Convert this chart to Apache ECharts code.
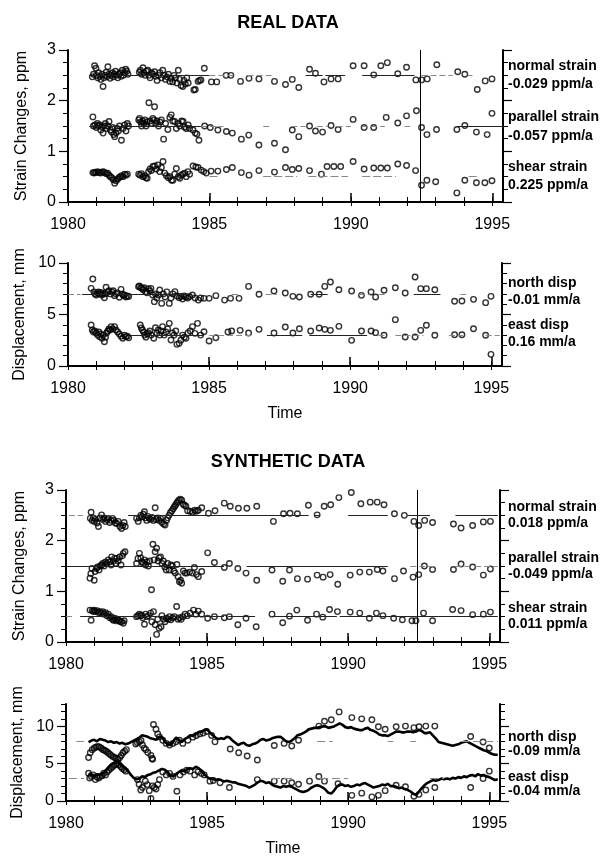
<!DOCTYPE html>
<html>
<head>
<meta charset="utf-8">
<script src="https://cdn.jsdelivr.net/npm/echarts@6/dist/echarts.min.js"></script>
<style>
  html, body { margin: 0; padding: 0; background: #fff; }
  #chart { width: 605px; height: 858px; }
</style>
</head>
<body>
<div id="chart"></div>
<script>
// ---- data: [year, value] ----
const quakeYear = 1992.45;
const yearTicks = [1980,1981,1982,1983,1984,1985,1986,1987,1988,1989,1990,1991,1992,1993,1994,1995];
const yearLabels = [1980, 1985, 1990, 1995];

// REAL DATA, strain (ppm)
const realNormal = [[1980.86,2.47],[1980.9,2.52],[1980.94,2.69],[1980.99,2.64],[1981.0,2.5],[1981.05,2.45],[1981.08,2.55],[1981.12,2.48],[1981.16,2.42],[1981.2,2.52],[1981.24,2.28],[1981.27,2.45],[1981.31,2.5],[1981.35,2.56],[1981.38,2.47],[1981.41,2.67],[1981.45,2.52],[1981.49,2.44],[1981.53,2.5],[1981.57,2.55],[1981.6,2.47],[1981.64,2.52],[1981.68,2.58],[1981.72,2.5],[1981.76,2.45],[1981.8,2.52],[1981.84,2.55],[1981.88,2.48],[1981.92,2.6],[1981.96,2.5],[1982.0,2.55],[1982.04,2.62],[1982.08,2.58],[1982.12,2.52],
  [1982.52,2.56],[1982.56,2.6],[1982.6,2.52],[1982.65,2.65],[1982.69,2.55],[1982.73,2.5],[1982.78,2.58],[1982.82,2.6],[1982.86,2.5],[1982.9,2.45],[1982.95,2.55],[1983.0,2.52],[1983.06,2.57],[1983.1,2.48],[1983.15,2.4],[1983.2,2.5],[1983.25,2.55],[1983.3,2.45],[1983.35,2.6],[1983.4,2.5],[1983.45,2.42],[1983.5,2.47],[1983.55,2.52],[1983.6,2.38],[1983.65,2.44],[1983.7,2.37],[1983.75,2.5],[1983.8,2.45],[1983.85,2.35],[1983.9,2.6],[1983.95,2.42],[1984.0,2.3],[1984.06,2.28],[1984.1,2.4],[1984.15,2.33],[1984.2,2.45],[1984.25,2.35],
  [1984.45,2.21],[1984.5,2.22],[1984.6,2.38],[1984.65,2.4],[1984.7,2.41],[1984.82,2.64],[1985.07,2.37],[1985.26,2.37],[1985.59,2.5],[1985.76,2.5],[1986.1,2.38],[1986.4,2.44],[1986.75,2.43],[1987.3,2.38],[1987.69,2.32],[1987.93,2.42],[1988.16,2.26],[1988.54,2.62],[1988.75,2.54],[1989.05,2.37],[1989.3,2.43],[1989.55,2.43],[1990.08,2.69],[1990.47,2.69],[1990.81,2.51],[1991.06,2.69],[1991.29,2.75],[1991.66,2.53],[1991.97,2.66],[1992.3,2.41],[1992.5,2.41],[1992.7,2.43],[1993.04,2.71],[1993.78,2.57],[1994.03,2.52],[1994.47,2.22],[1994.75,2.39],[1994.99,2.43]];
const realParallel = [[1980.88,1.68],[1980.9,1.5],[1980.95,1.52],[1981.0,1.47],[1981.04,1.55],[1981.08,1.5],[1981.12,1.52],[1981.16,1.42],[1981.2,1.48],[1981.24,1.36],[1981.28,1.5],[1981.32,1.55],[1981.36,1.45],[1981.4,1.5],[1981.45,1.59],[1981.5,1.42],[1981.54,1.38],[1981.58,1.47],[1981.62,1.33],[1981.65,1.29],[1981.7,1.36],[1981.74,1.45],[1981.78,1.4],[1981.82,1.5],[1981.89,1.22],[1981.95,1.45],[1982.0,1.52],[1982.05,1.4],[1982.1,1.55],[1982.14,1.5],
  [1982.5,1.62],[1982.53,1.65],[1982.57,1.58],[1982.6,1.5],[1982.64,1.6],[1982.68,1.55],[1982.72,1.62],[1982.76,1.5],[1982.8,1.58],[1982.86,1.96],[1983.06,1.88],[1982.9,1.6],[1982.95,1.55],[1983.0,1.65],[1983.04,1.62],[1983.1,1.55],[1983.14,1.6],[1983.2,1.5],[1983.25,1.58],[1983.3,1.62],[1983.38,1.24],[1983.45,1.55],[1983.53,1.43],[1983.6,1.67],[1983.65,1.72],[1983.7,1.6],[1983.77,1.59],[1983.83,1.45],[1983.9,1.55],[1983.95,1.5],[1984.02,1.6],[1984.07,1.59],[1984.12,1.48],[1984.18,1.45],[1984.25,1.52],[1984.3,1.45],
  [1984.42,1.42],[1984.5,1.36],[1984.56,1.34],[1984.63,1.22],[1984.83,1.5],[1985.03,1.47],[1985.3,1.42],[1985.6,1.39],[1985.81,1.36],[1986.13,1.24],[1986.39,1.32],[1986.75,1.125],[1987.3,1.16],[1987.69,1.03],[1987.93,1.42],[1988.16,1.29],[1988.54,1.5],[1988.75,1.4],[1989.0,1.38],[1989.3,1.51],[1989.55,1.43],[1990.08,1.63],[1990.47,1.47],[1990.81,1.47],[1991.25,1.67],[1991.66,1.56],[1991.97,1.7],[1992.32,1.8],[1992.5,1.47],[1992.69,1.33],[1993.03,1.43],[1993.75,1.43],[1994.03,1.51],[1994.44,1.38],[1994.82,1.33],[1994.99,1.75]];
const realShear = [[1980.88,0.58],[1980.92,0.57],[1980.96,0.59],[1981.0,0.58],[1981.05,0.6],[1981.1,0.58],[1981.15,0.57],[1981.2,0.59],[1981.25,0.6],[1981.3,0.58],[1981.35,0.56],[1981.4,0.57],[1981.45,0.53],[1981.5,0.5],[1981.55,0.48],[1981.6,0.44],[1981.65,0.37],[1981.7,0.42],[1981.75,0.45],[1981.8,0.48],[1981.85,0.5],[1981.9,0.52],[1981.95,0.5],[1982.0,0.55],[1982.05,0.53],[1982.1,0.55],
  [1982.5,0.55],[1982.55,0.53],[1982.6,0.56],[1982.65,0.5],[1982.7,0.52],[1982.75,0.48],[1982.8,0.47],[1982.85,0.6],[1982.9,0.65],[1982.95,0.62],[1983.0,0.7],[1983.06,0.71],[1983.12,0.65],[1983.18,0.73],[1983.24,0.6],[1983.3,0.68],[1983.36,0.8],[1983.42,0.57],[1983.48,0.52],[1983.55,0.48],[1983.6,0.5],[1983.66,0.43],[1983.71,0.43],[1983.77,0.55],[1983.83,0.66],[1983.9,0.5],[1983.95,0.47],[1984.0,0.53],[1984.06,0.55],[1984.12,0.57],[1984.18,0.5],[1984.24,0.6],[1984.3,0.55],
  [1984.42,0.71],[1984.52,0.69],[1984.6,0.68],[1984.71,0.63],[1984.8,0.6],[1984.89,0.57],[1985.06,0.61],[1985.3,0.61],[1985.6,0.64],[1985.81,0.68],[1986.13,0.58],[1986.4,0.53],[1986.75,0.62],[1987.3,0.59],[1987.69,0.68],[1987.93,0.64],[1988.16,0.66],[1988.54,0.62],[1988.96,0.55],[1989.16,0.7],[1989.4,0.7],[1989.64,0.7],[1990.08,0.8],[1990.47,0.65],[1990.81,0.67],[1991.06,0.67],[1991.29,0.67],[1991.66,0.75],[1991.97,0.72],[1992.29,0.62],[1992.5,0.33],[1992.69,0.43],[1993.0,0.4],[1993.75,0.18],[1994.03,0.43],[1994.44,0.38],[1994.74,0.38],[1994.99,0.42]];

// REAL DATA, displacement (mm)
const realNorth = [[1980.82,7.54],[1980.88,8.45],[1980.92,7.2],[1980.96,7.0],[1981.0,6.9],[1981.04,7.1],[1981.08,7.2],[1981.12,7.0],[1981.16,7.15],[1981.2,6.9],[1981.24,7.05],[1981.29,6.63],[1981.32,7.0],[1981.35,7.64],[1981.4,7.2],[1981.45,7.3],[1981.5,7.0],[1981.55,7.2],[1981.6,7.3],[1981.65,6.83],[1981.7,7.0],[1981.75,7.1],[1981.82,6.67],[1981.88,7.44],[1981.92,7.0],[1981.96,6.85],[1982.0,6.9],[1982.05,6.7],[1982.1,6.8],[1982.15,6.75],
  [1982.5,7.7],[1982.53,7.77],[1982.58,7.6],[1982.62,7.55],[1982.66,7.4],[1982.7,7.6],[1982.75,7.2],[1982.8,7.1],[1982.85,7.5],[1982.9,7.3],[1982.94,7.54],[1983.0,6.9],[1983.06,6.25],[1983.1,7.0],[1983.15,6.6],[1983.2,6.9],[1983.25,7.38],[1983.32,6.08],[1983.38,7.0],[1983.44,6.7],[1983.5,7.2],[1983.59,6.08],[1983.65,6.6],[1983.72,7.0],[1983.79,7.22],[1983.86,6.8],[1983.94,6.63],[1984.0,6.75],[1984.06,6.5],[1984.12,6.8],[1984.18,6.7],[1984.24,6.6],[1984.3,6.75],[1984.41,6.9],[1984.5,6.6],[1984.62,6.4],[1984.7,6.6],[1984.82,6.57],
  [1985.0,6.57],[1985.24,6.83],[1985.55,6.4],[1985.76,6.57],[1986.06,6.57],[1986.4,7.73],[1986.77,6.96],[1987.3,7.28],[1987.7,7.09],[1987.97,6.76],[1988.2,6.7],[1988.6,6.96],[1988.9,6.96],[1989.1,7.73],[1989.3,8.16],[1989.6,7.41],[1990.05,7.28],[1990.4,6.86],[1990.74,7.18],[1990.9,6.7],[1991.2,7.35],[1991.6,7.6],[1991.95,7.09],[1992.3,8.64],[1992.5,7.51],[1992.7,7.51],[1993.0,7.41],[1993.7,6.28],[1993.96,6.31],[1994.37,6.47],[1994.8,6.15],[1994.99,6.76]];
const realEast = [[1980.82,3.98],[1980.86,3.5],[1980.9,3.3],[1980.95,3.4],[1981.0,3.2],[1981.05,3.0],[1981.09,3.3],[1981.12,2.85],[1981.16,3.1],[1981.2,2.7],[1981.25,3.0],[1981.29,2.36],[1981.33,2.8],[1981.37,3.2],[1981.41,3.4],[1981.45,3.6],[1981.49,3.5],[1981.53,3.82],[1981.58,3.6],[1981.65,3.82],[1981.7,3.5],[1981.76,3.3],[1981.82,3.1],[1981.88,2.9],[1981.94,2.69],[1982.0,3.0],[1982.05,2.85],[1982.1,2.9],[1982.15,2.75],
  [1982.56,3.98],[1982.6,3.7],[1982.64,3.5],[1982.68,3.3],[1982.72,3.0],[1982.76,2.8],[1982.8,3.1],[1982.85,3.2],[1982.9,3.4],[1982.95,3.0],[1983.04,2.69],[1983.1,3.72],[1983.15,3.2],[1983.2,3.5],[1983.25,3.0],[1983.3,3.4],[1983.35,3.82],[1983.41,3.0],[1983.47,3.3],[1983.53,3.6],[1983.59,4.14],[1983.65,2.52],[1983.7,3.2],[1983.76,3.0],[1983.82,3.4],[1983.86,2.1],[1983.94,2.2],[1984.0,2.5],[1984.06,3.0],[1984.12,2.8],[1984.18,2.69],[1984.25,3.2],[1984.33,3.4],[1984.41,3.82],[1984.5,3.17],[1984.59,4.14],[1984.7,3.0],[1984.82,3.33],
  [1985.0,2.43],[1985.24,2.75],[1985.67,3.3],[1985.8,3.4],[1986.1,3.46],[1986.4,3.2],[1986.77,3.56],[1987.3,3.2],[1987.7,3.79],[1987.97,3.2],[1988.2,3.62],[1988.6,3.4],[1988.9,3.69],[1989.1,3.56],[1989.3,3.46],[1989.6,3.85],[1990.05,2.49],[1990.4,3.4],[1990.74,3.4],[1990.9,3.24],[1991.2,2.98],[1991.6,4.5],[1991.95,2.82],[1992.3,2.82],[1992.5,3.46],[1992.7,3.95],[1993.0,2.98],[1993.7,3.04],[1993.96,3.04],[1994.37,3.62],[1994.8,2.98],[1994.99,1.13]];

// SYNTHETIC DATA, strain (ppm)
const synNormal = [[1980.86,2.44],[1980.89,2.56],[1980.93,2.4],[1980.97,2.45],[1981.0,2.38],[1981.05,2.42],[1981.1,2.35],[1981.15,2.28],[1981.2,2.45],[1981.26,2.51],[1981.3,2.42],[1981.35,2.45],[1981.4,2.38],[1981.45,2.42],[1981.5,2.44],[1981.55,2.36],[1981.6,2.4],[1981.65,2.44],[1981.7,2.4],[1981.75,2.35],[1981.8,2.34],[1981.85,2.38],[1981.91,2.28],[1981.97,2.24],[1982.02,2.3],[1982.06,2.36],[1982.1,2.28],
  [1982.5,2.44],[1982.56,2.38],[1982.6,2.45],[1982.65,2.5],[1982.7,2.47],[1982.74,2.52],[1982.78,2.57],[1982.82,2.45],[1982.86,2.4],[1982.9,2.48],[1982.95,2.44],[1983.0,2.42],[1983.05,2.46],[1983.1,2.4],[1983.16,2.65],[1983.2,2.42],[1983.25,2.45],[1983.3,2.4],[1983.35,2.44],[1983.4,2.36],[1983.46,2.33],[1983.51,2.31],[1983.56,2.4],[1983.6,2.45],[1983.65,2.5],[1983.7,2.55],[1983.75,2.59],[1983.8,2.63],[1983.84,2.67],[1983.88,2.7],[1983.92,2.74],[1983.96,2.77],[1984.0,2.8],[1984.05,2.82],[1984.1,2.8],[1984.15,2.72],[1984.2,2.7],[1984.25,2.68],[1984.31,2.59],[1984.4,2.58],[1984.48,2.56],[1984.56,2.6],[1984.62,2.58],[1984.69,2.6],[1984.81,2.65],
  [1985.05,2.54],[1985.28,2.59],[1985.61,2.74],[1985.82,2.68],[1986.11,2.64],[1986.41,2.64],[1986.76,2.68],[1987.35,2.38],[1987.71,2.53],[1987.94,2.54],[1988.2,2.53],[1988.59,2.7],[1988.9,2.51],[1989.15,2.68],[1989.38,2.71],[1989.67,2.85],[1990.11,2.95],[1990.45,2.73],[1990.78,2.76],[1991.03,2.76],[1991.27,2.71],[1991.64,2.53],[1991.99,2.5],[1992.33,2.38],[1992.5,2.3],[1992.71,2.4],[1992.99,2.36],[1993.73,2.33],[1994.0,2.25],[1994.41,2.3],[1994.79,2.37],[1995.04,2.38]];
const synParallel = [[1980.85,1.26],[1980.88,1.35],[1980.92,1.45],[1981.0,1.22],[1981.03,1.39],[1981.08,1.45],[1981.12,1.48],[1981.17,1.42],[1981.22,1.5],[1981.26,1.52],[1981.3,1.55],[1981.35,1.5],[1981.4,1.58],[1981.45,1.55],[1981.5,1.62],[1981.55,1.58],[1981.6,1.52],[1981.62,1.68],[1981.67,1.6],[1981.72,1.65],[1981.76,1.55],[1981.8,1.65],[1981.85,1.6],[1981.9,1.68],[1981.95,1.52],[1982.0,1.7],[1982.03,1.75],[1982.09,1.78],
  [1982.5,1.55],[1982.55,1.65],[1982.6,1.75],[1982.65,1.66],[1982.7,1.58],[1982.74,1.55],[1982.78,1.62],[1982.82,1.52],[1982.87,1.58],[1982.92,1.5],[1982.97,1.6],[1983.03,1.03],[1983.08,1.93],[1983.12,1.62],[1983.16,1.78],[1983.21,1.85],[1983.26,1.6],[1983.3,1.66],[1983.35,1.68],[1983.4,1.55],[1983.45,1.6],[1983.5,1.48],[1983.55,1.42],[1983.6,1.55],[1983.66,1.42],[1983.72,1.52],[1983.77,1.5],[1983.82,1.4],[1983.87,1.36],[1983.93,1.53],[1983.97,1.29],[1984.02,1.19],[1984.06,1.22],[1984.1,1.16],[1984.16,1.4],[1984.22,1.36],[1984.28,1.36],[1984.38,1.38],[1984.48,1.36],[1984.55,1.47],[1984.62,1.33],[1984.69,1.29],[1984.81,1.39],
  [1985.02,1.76],[1985.26,1.57],[1985.61,1.47],[1985.79,1.55],[1986.09,1.45],[1986.38,1.36],[1986.76,1.22],[1987.3,1.42],[1987.68,1.2],[1987.92,1.42],[1988.2,1.25],[1988.56,1.24],[1988.9,1.32],[1989.11,1.28],[1989.36,1.33],[1989.63,1.14],[1990.07,1.32],[1990.41,1.38],[1990.75,1.38],[1991.03,1.43],[1991.23,1.4],[1991.64,1.25],[1991.96,1.4],[1992.3,1.28],[1992.5,1.33],[1992.7,1.5],[1992.99,1.43],[1993.73,1.43],[1994.0,1.54],[1994.41,1.48],[1994.79,1.32],[1995.04,1.44]];
const synShear = [[1980.85,0.63],[1980.89,0.43],[1980.93,0.62],[1980.97,0.6],[1981.0,0.63],[1981.05,0.6],[1981.1,0.62],[1981.15,0.58],[1981.2,0.6],[1981.25,0.57],[1981.3,0.6],[1981.35,0.55],[1981.4,0.58],[1981.45,0.52],[1981.5,0.55],[1981.55,0.48],[1981.6,0.5],[1981.65,0.45],[1981.68,0.43],[1981.72,0.47],[1981.77,0.42],[1981.82,0.45],[1981.87,0.43],[1981.92,0.4],[1981.97,0.4],[1982.03,0.37],[1982.06,0.42],
  [1982.5,0.5],[1982.55,0.52],[1982.6,0.55],[1982.65,0.52],[1982.68,0.53],[1982.72,0.48],[1982.78,0.35],[1982.82,0.55],[1982.87,0.5],[1982.92,0.52],[1983.0,0.57],[1983.04,0.4],[1983.1,0.6],[1983.16,0.34],[1983.21,0.15],[1983.25,0.45],[1983.3,0.27],[1983.37,0.3],[1983.4,0.52],[1983.46,0.45],[1983.51,0.4],[1983.56,0.47],[1983.62,0.45],[1983.67,0.5],[1983.72,0.44],[1983.78,0.48],[1983.84,0.5],[1983.92,0.7],[1983.97,0.45],[1984.02,0.48],[1984.08,0.45],[1984.14,0.5],[1984.22,0.55],[1984.3,0.52],[1984.4,0.57],[1984.52,0.63],[1984.6,0.55],[1984.69,0.61],[1984.81,0.55],
  [1985.02,0.47],[1985.26,0.5],[1985.61,0.48],[1985.79,0.5],[1986.09,0.34],[1986.38,0.47],[1986.74,0.3],[1987.3,0.55],[1987.68,0.38],[1987.92,0.51],[1988.18,0.63],[1988.56,0.43],[1988.88,0.55],[1989.1,0.49],[1989.34,0.64],[1989.62,0.6],[1990.07,0.59],[1990.41,0.57],[1990.75,0.47],[1991.0,0.57],[1991.23,0.52],[1991.61,0.47],[1991.92,0.44],[1992.26,0.42],[1992.4,0.42],[1992.67,0.57],[1992.99,0.42],[1993.7,0.64],[1994.0,0.62],[1994.41,0.54],[1994.79,0.55],[1995.04,0.59]];

// SYNTHETIC DATA, displacement (mm): observed circles
const synNorth = [[1980.8,5.82],[1980.86,6.46],[1980.93,6.88],[1981.0,7.09],[1981.05,7.2],[1981.12,7.3],[1981.18,7.25],[1981.24,7.1],[1981.3,6.9],[1981.36,6.8],[1981.42,6.67],[1981.48,6.5],[1981.54,6.3],[1981.6,6.12],[1981.66,5.95],[1981.72,5.82],[1981.78,5.7],[1981.84,5.61],[1981.9,5.8],[1981.96,6.1],[1982.02,6.46],[1982.08,6.67],[1982.14,6.88],
  [1982.47,7.64],[1982.53,7.8],[1982.6,7.93],[1982.66,8.1],[1982.71,7.5],[1982.77,7.09],[1982.83,6.88],[1982.9,6.5],[1983.01,6.12],[1983.05,5.7],[1983.07,5.6],[1983.1,10.25],[1983.19,9.62],[1983.25,8.99],[1983.31,8.6],[1983.43,8.14],[1983.55,7.72],[1983.67,7.5],[1983.79,7.72],[1983.9,7.93],[1984.02,8.14],[1984.14,7.72],[1984.32,8.14],[1984.5,8.56],[1984.62,8.78],[1984.74,8.99],[1984.86,9.1],[1984.98,9.32],[1985.16,8.78],[1985.28,7.93],
  [1985.82,6.96],[1986.12,6.46],[1986.42,6.03],[1986.78,5.49],[1987.38,7.43],[1987.73,7.72],[1988.0,7.38],[1988.24,8.14],[1988.96,10.04],[1989.16,10.68],[1989.4,10.89],[1989.68,11.94],[1990.13,11.18],[1990.48,11.01],[1990.84,10.89],[1991.07,9.96],[1991.31,9.62],[1991.7,9.96],[1992.03,10.04],[1992.33,9.83],[1992.51,9.96],[1992.75,10.04],[1993.07,10.04],[1994.34,8.65],[1994.78,7.9],[1995.0,7.1]];
const synEast = [[1980.8,3.71],[1980.84,3.08],[1980.9,3.3],[1980.96,3.5],[1981.04,2.87],[1981.1,3.2],[1981.16,3.08],[1981.22,3.3],[1981.28,3.4],[1981.34,3.71],[1981.4,3.5],[1981.46,3.9],[1981.52,4.14],[1981.58,4.35],[1981.64,4.56],[1981.7,4.77],[1981.76,4.9],[1981.82,5.1],[1981.88,4.85],[1981.94,4.6],[1982.0,4.35],[1982.06,4.2],[1982.12,4.0],
  [1982.53,2.87],[1982.59,2.24],[1982.65,1.48],[1982.71,1.8],[1982.81,2.66],[1982.88,2.2],[1982.95,1.39],[1983.01,0.34],[1983.07,2.03],[1983.13,1.8],[1983.19,1.6],[1983.25,2.2],[1983.31,2.87],[1983.43,3.9],[1983.55,3.5],[1983.67,3.7],[1983.79,3.3],[1983.93,1.31],[1984.04,3.5],[1984.16,3.9],[1984.28,4.14],[1984.4,4.0],[1984.56,3.5],[1984.68,3.92],[1984.8,3.7],[1984.9,3.5],[1985.1,2.66],[1985.22,2.74],[1985.46,2.45],[1985.79,1.81],
  [1986.78,2.87],[1987.38,2.66],[1987.73,2.66],[1988.0,2.45],[1988.24,2.24],[1988.63,2.66],[1988.96,3.29],[1989.16,2.66],[1989.64,2.32],[1990.13,0.76],[1990.48,1.05],[1990.84,0.55],[1991.07,0.76],[1991.31,1.39],[1991.7,2.11],[1992.03,1.9],[1992.33,0.63],[1992.51,0.89],[1992.75,1.48],[1993.07,1.81],[1994.34,1.8],[1994.78,3.0],[1995.0,4.0]];

// SYNTHETIC DATA, displacement (mm): continuous model traces, one value every 0.1 yr from 1980.8
const traceStart = 1980.8;
const traceStep = 0.1;
const synNorthTrace = [7.9,8.1,8.2,8.0,8.3,8.2,8.1,7.9,8.0,7.8,7.9,7.7,7.8,7.6,7.7,7.9,8.1,8.3,8.5,8.8,8.7,8.6,8.4,8.3,8.2,8.5,8.6,8.0,7.6,7.5,
  8.0,8.5,8.2,7.9,8.3,8.5,8.8,8.7,9.0,9.2,9.3,9.5,9.6,9.2,8.8,8.5,8.3,8.4,8.3,8.6,8.5,8.1,7.8,7.5,7.7,7.8,7.5,7.4,7.6,7.7,
  7.9,8.2,8.3,8.1,8.2,8.4,8.5,8.6,8.6,8.3,8.0,7.9,8.1,8.4,8.8,8.9,9.1,9.3,9.6,9.7,9.8,9.8,9.9,10.0,10.0,9.8,9.9,10.0,10.2,10.4,
  10.2,9.9,9.8,9.9,9.7,9.6,9.5,9.5,9.7,9.8,9.5,9.4,9.2,8.9,8.8,8.8,8.7,8.9,9.1,9.3,9.3,9.2,9.2,9.3,9.3,9.2,9.3,9.5,9.4,9.1,
  9.1,9.2,8.8,8.4,7.9,7.8,7.7,7.6,7.5,7.4,7.5,7.6,7.8,7.9,8.0,7.8,7.6,7.4,7.2,7.0,6.8,6.7,6.5,6.3,6.2,6.2];
const synEastTrace = [3.7,3.5,3.4,3.6,3.5,3.7,4.0,4.5,4.9,5.1,5.2,5.0,4.7,4.4,4.0,3.5,3.1,2.9,3.0,3.3,3.2,3.5,3.6,3.8,3.9,4.1,4.3,4.2,3.9,3.4,
  3.3,3.6,3.9,4.1,4.0,4.3,4.4,4.3,4.6,4.4,4.1,3.6,3.2,3.0,3.0,2.8,2.9,2.8,2.6,2.7,2.6,2.5,2.5,2.3,2.2,2.1,2.0,1.8,2.0,2.2,
  2.5,2.7,2.6,2.4,2.5,2.2,2.0,1.9,1.8,2.0,1.9,2.0,1.9,1.7,1.5,1.3,1.2,1.3,1.5,1.8,2.0,2.1,2.0,1.8,1.5,1.1,1.0,1.4,1.9,2.2,
  2.2,2.0,2.1,1.9,2.0,2.2,2.1,2.3,2.4,2.2,2.0,1.8,1.9,2.0,2.2,2.1,2.3,2.0,2.0,1.9,1.7,1.8,1.6,1.5,1.3,1.0,0.8,1.2,1.7,2.1,
  2.4,2.6,2.8,2.7,2.8,3.0,2.9,3.0,2.9,3.1,3.0,3.2,3.1,3.3,3.2,3.4,3.5,3.3,3.6,3.4,3.5,3.3,3.2,3.0,2.8,2.9];

// fitted levels and the year spans where each fit line is drawn
const fitReal = {normal: 2.5, parallel: 1.5, shear: 0.5, north: 7, east: 3};
const fitSyn = {normal: 2.5, parallel: 1.5, shear: 0.5, north: 8, east: 3};
const realNormalDark = [[1980.75,1985.0],[1988.4,1989.0],[1989.1,1989.8],[1990.4,1992.25]];
const realNormalGray = [[1985.0,1985.95],[1986.35,1987.2],[1992.5,1993.6],[1994.15,1994.3]];
const realParallelDark = [[1980.75,1984.7],[1993.75,1995.38]];
const realParallelGray = [[1984.7,1985.5],[1986.9,1987.2],[1987.9,1988.4],[1988.8,1989.2],[1989.5,1990.0],[1990.4,1991.2],[1991.9,1992.1]];
const realShearGray = [[1985.0,1985.3],[1986.9,1988.1],[1988.5,1989.9],[1990.4,1991.6],[1994.17,1994.45]];
const realNorthDark = [[1980.5,1984.4],[1988.6,1989.2],[1992.25,1993.2]];
const realNorthGray = [[1980.0,1980.45],[1985.8,1986.1],[1987.0,1987.4],[1990.3,1990.7],[1991.0,1991.3],[1993.9,1994.2]];
const realEastDark = [[1982.2,1984.8],[1987.05,1988.3],[1988.55,1990.6]];
const realEastGray = [[1985.0,1986.5],[1991.0,1991.3],[1991.6,1992.6],[1993.5,1994.0],[1994.8,1995.3]];
const synNormalDark = [[1982.2,1988.6],[1988.8,1989.0],[1990.0,1991.4],[1992.1,1992.9],[1993.8,1995.3]];
const synNormalGray = [[1980.1,1980.6]];
const synParallelDark = [[1980.0,1985.6],[1986.4,1991.4]];
const synParallelGray = [[1992.2,1993.1],[1993.8,1994.3],[1994.5,1995.3]];
const synShearDark = [[1980.5,1985.6],[1985.75,1986.7],[1987.3,1989.6],[1989.7,1995.3]];
const synShearGray = [[1980.0,1980.3]];
const synNorthGray = [[1980.37,1980.64],[1988.9,1989.45],[1991.4,1991.6],[1992.2,1992.4],[1994.0,1995.3]];
const synEastGray = [[1980.1,1980.64],[1987.3,1988.1],[1989.0,1990.0],[1992.9,1993.4]];

// ---- layout ----
const FONT = '"Liberation Sans", Arial, Helvetica, sans-serif';
const xMax = 1995.38;
const grids = [
  {left: 68, top: 50, width: 435, height: 152},
  {left: 68, top: 263, width: 434, height: 103},
  {left: 66, top: 490, width: 434, height: 152},
  {left: 66, top: 704, width: 434, height: 102}
];
const yConf = [
  {max: 3, major: [0,1,2,3], minor: [0,0.25,0.5,0.75,1,1.25,1.5,1.75,2,2.25,2.5,2.75,3], name: 'Strain Changes, ppm'},
  {max: 10, major: [0,5,10], minor: [0,1,2,3,4,5,6,7,8,9,10], name: 'Displacement, mm'},
  {max: 3, major: [0,1,2,3], minor: [0,0.25,0.5,0.75,1,1.25,1.5,1.75,2,2.25,2.5,2.75,3], name: 'Strain Changes, ppm'},
  {max: 13, major: [0,5,10], minor: [0,1,2,3,4,5,6,7,8,9,10,11,12,13], name: 'Displacement, mm'}
];

const lineBlack = {color: '#000', width: 2};
const plain = v => String(v);
const xAxes = [];
const yAxes = [];
grids.forEach((g, i) => {
  const showTime = (i === 1 || i === 3);
  xAxes.push({
    type: 'value', gridIndex: i, min: 1980, max: xMax, position: 'bottom',
    axisLine: {lineStyle: lineBlack},
    axisTick: {customValues: yearTicks, length: 4, lineStyle: {color: '#000', width: 1}},
    axisLabel: {customValues: yearLabels, formatter: plain, color: '#000', fontSize: 16, fontFamily: FONT, margin: 15},
    splitLine: {show: false},
    name: showTime ? 'Time' : '', nameLocation: 'middle', nameGap: 40,
    nameTextStyle: {color: '#000', fontSize: 16, fontFamily: FONT}
  });
  xAxes.push({
    type: 'value', gridIndex: i, min: 1980, max: xMax, position: 'top',
    axisLine: {lineStyle: lineBlack},
    axisTick: {customValues: yearTicks, length: 5, lineStyle: {color: '#000', width: 1}},
    axisLabel: {show: false}, splitLine: {show: false}
  });
  xAxes.push({
    type: 'value', gridIndex: i, min: 1980, max: xMax, position: 'top',
    axisLine: {show: false},
    axisTick: {customValues: yearLabels, length: 9, lineStyle: {color: '#000', width: 1.5}},
    axisLabel: {show: false}, splitLine: {show: false}
  });
  const yc = yConf[i];
  ['left', 'right'].forEach(side => {
    yAxes.push({
      type: 'value', gridIndex: i, min: 0, max: yc.max, position: side,
      axisLine: {show: true, lineStyle: lineBlack},
      axisTick: {customValues: yc.minor, length: 5, lineStyle: {color: '#000', width: 1}},
      axisLabel: {show: false}, splitLine: {show: false}
    });
    yAxes.push({
      type: 'value', gridIndex: i, min: 0, max: yc.max, position: side,
      axisLine: {show: false},
      axisTick: {customValues: yc.major, length: 9, lineStyle: {color: '#000', width: 1.2}},
      axisLabel: side === 'left'
        ? {customValues: yc.major, formatter: plain, color: '#000', fontSize: 16, fontFamily: FONT, margin: 12}
        : {show: false},
      splitLine: {show: false},
      name: side === 'left' ? yc.name : '', nameLocation: 'middle', nameGap: 38,
      nameTextStyle: {color: '#000', fontSize: 16, fontFamily: FONT}
    });
  });
});

function segs(level, list, color, type) {
  return list.map(([a, b]) => [
    {coord: [a, level], lineStyle: {color: color, width: 1, type: type || 'solid'}},
    {coord: [b, level]}
  ]);
}

function scatter(gi, data, marks) {
  const s = {
    type: 'scatter', xAxisIndex: gi * 3, yAxisIndex: gi * 4, data: data,
    symbol: 'circle', symbolSize: 5.5,
    itemStyle: {color: 'rgba(0,0,0,0)', borderColor: '#000', borderWidth: 1.4},
    silent: true, z: 3
  };
  if (marks) {
    s.markLine = {silent: true, symbol: ['none', 'none'], label: {show: false}, animation: false, data: marks};
  }
  return s;
}

function trace(gi, vals) {
  return {
    type: 'line', xAxisIndex: gi * 3, yAxisIndex: gi * 4,
    data: vals.map((v, k) => [traceStart + k * traceStep, v]),
    showSymbol: false, silent: true, z: 4,
    lineStyle: {color: '#000', width: 2.6}
  };
}

const quakeMark = {xAxis: quakeYear, lineStyle: {color: '#000', width: 1, type: 'solid'}};

const series = [
  scatter(0, realNormal, [quakeMark]
    .concat(segs(fitReal.normal, realNormalDark, '#222'))
    .concat(segs(fitReal.normal, realNormalGray, '#888', [6, 3]))
    .concat(segs(fitReal.parallel, realParallelDark, '#222'))
    .concat(segs(fitReal.parallel, realParallelGray, '#888', [6, 3]))
    .concat(segs(fitReal.shear, realShearGray, '#888', [8, 3]))),
  scatter(0, realParallel),
  scatter(0, realShear),
  scatter(1, realNorth, segs(fitReal.north, realNorthDark, '#222')
    .concat(segs(fitReal.north, realNorthGray, '#888', [6, 3]))
    .concat(segs(fitReal.east, realEastDark, '#222'))
    .concat(segs(fitReal.east, realEastGray, '#888', [6, 3]))),
  scatter(1, realEast),
  scatter(2, synNormal, [quakeMark]
    .concat(segs(fitSyn.normal, synNormalDark, '#222'))
    .concat(segs(fitSyn.normal, synNormalGray, '#888', [6, 3]))
    .concat(segs(fitSyn.parallel, synParallelDark, '#222'))
    .concat(segs(fitSyn.parallel, synParallelGray, '#888', [6, 3]))
    .concat(segs(fitSyn.shear, synShearDark, '#222'))
    .concat(segs(fitSyn.shear, synShearGray, '#888', [6, 3]))),
  scatter(2, synParallel),
  scatter(2, synShear),
  scatter(3, synNorth, segs(fitSyn.north, synNorthGray, '#888', [8, 4])
    .concat(segs(fitSyn.east, synEastGray, '#888', [8, 4]))),
  scatter(3, synEast),
  trace(3, synNorthTrace),
  trace(3, synEastTrace)
];

// right-hand annotations and panel titles
const notes = [
  ['normal strain', 66], ['-0.029 ppm/a', 84], ['parallel strain', 117], ['-0.057 ppm/a', 136],
  ['shear strain', 167], ['0.225 ppm/a', 185],
  ['north disp', 283], ['-0.01 mm/a', 300], ['east disp', 325], ['0.16 mm/a', 342],
  ['normal strain', 507], ['0.018 ppm/a', 523], ['parallel strain', 558], ['-0.049 ppm/a', 574],
  ['shear strain', 608], ['0.011 ppm/a', 624],
  ['north disp', 737], ['-0.09 mm/a', 751], ['east disp', 777], ['-0.04 mm/a', 791]
];
const graphics = notes.map(([t, y]) => ({
  type: 'text', x: 508, y: y, silent: true,
  style: {text: t, fill: '#000', font: 'bold 14px ' + FONT, textVerticalAlign: 'middle'}
}));
[['REAL DATA', 23], ['SYNTHETIC DATA', 462]].forEach(([t, y]) => {
  graphics.push({
    type: 'text', x: 288, y: y, silent: true,
    style: {text: t, fill: '#000', font: 'bold 18px ' + FONT, textAlign: 'center', textVerticalAlign: 'middle'}
  });
});

const chart = echarts.init(document.getElementById('chart'), null, {renderer: 'canvas'});
chart.setOption({
  animation: false,
  backgroundColor: '#fff',
  grid: grids,
  xAxis: xAxes,
  yAxis: yAxes,
  series: series,
  graphic: graphics
});
</script>
</body>
</html>
